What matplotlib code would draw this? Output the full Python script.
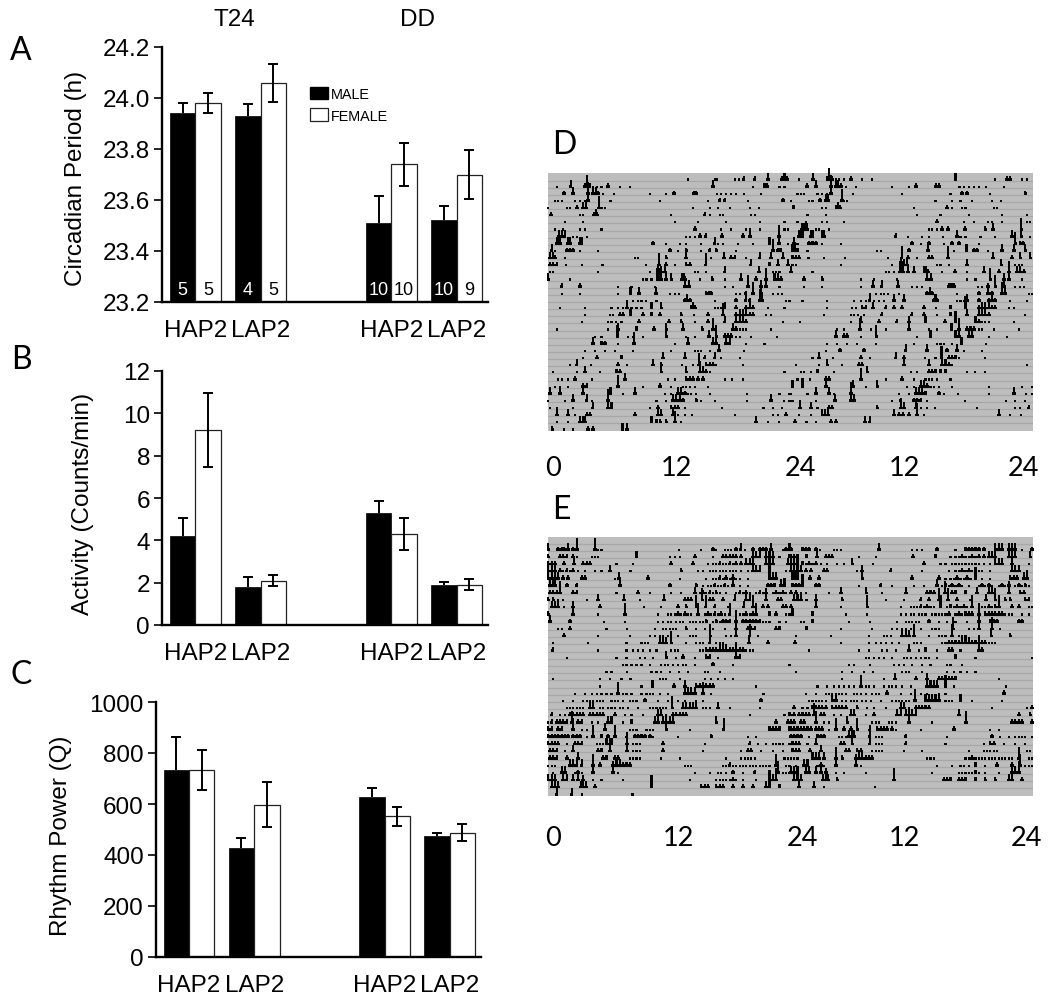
import numpy as np
import matplotlib
matplotlib.use('Agg')
from matplotlib import pyplot as plt
from matplotlib.patches import Patch

plt.rcParams['font.family'] = 'Liberation Sans'

W, H = 1050, 1004

groups = ['HAP2', 'LAP2', 'HAP2', 'LAP2']
group_pos = [0, 1, 3, 4]

period_male = [23.94, 23.93, 23.51, 23.52]
period_female = [23.98, 24.06, 23.74, 23.70]
period_male_err = [0.04, 0.045, 0.105, 0.055]
period_female_err = [0.04, 0.075, 0.085, 0.095]
n_male = [5, 4, 10, 10]
n_female = [5, 5, 10, 9]

activity_male = [4.2, 1.8, 5.3, 1.9]
activity_female = [9.2, 2.1, 4.3, 1.9]
activity_male_err = [0.85, 0.45, 0.55, 0.15]
activity_female_err = [1.75, 0.25, 0.75, 0.25]

power_male = [735, 428, 628, 475]
power_female = [733, 598, 552, 487]
power_male_err = [127, 40, 34, 10]
power_female_err = [77, 87, 38, 33]

# one list per day, (bin, level), 729 bins = 24 h
BINS_PER_DAY = 729
days_d = [
    [(421,1),(501,1),(509,1),(561,1),(573,1),(588,2),(621,2),(661,3),(704,2),(711,3),(719,2)],
    [(26,1),(68,3),(111,2),(116,4),(125,2),(136,1),(146,1),(161,1),(181,2),(216,1),(246,1),(496,3),(616,1),(651,2),(659,2),(696,1),(711,1)],
    [(49,2),(76,3),(121,4),(136,3),(144,3),(151,2),(166,1),(198,1),(306,1),(356,1),(378,2),(438,2),(446,2),(508,1),(521,1),(536,1),(551,1),(566,1),(588,1),(641,1)],
    [(21,1),(31,1),(41,1),(81,1),(96,1),(111,1),(121,4),(188,1),(336,1),(481,1),(516,2),(531,2),(601,1),(706,2)],
    [(1,1),(56,1),(66,1),(88,2),(106,3),(114,3),(154,4),(161,1),(171,1),(436,1),(486,1),(511,1),(546,1),(606,1),(634,1)],
    [(9,2),(96,1),(106,1),(138,2),(143,3),(148,2),(371,1),(471,2),(486,1),(516,1),(526,1),(611,1),(621,1)],
    [(51,1),(106,1),(381,1),(451,1),(536,1),(636,1),(711,1)],
    [(21,1),(46,1),(96,1),(111,1),(161,1),(441,2),(521,1),(551,1),(594,1),(606,1),(636,1),(711,1),(721,1)],
    [(34,3),(42,3),(50,3),(76,1),(86,1),(116,1),(416,1),(426,1),(441,1),(456,2),(474,2),(524,2),(586,2),(608,3),(694,4)],
    [(26,3),(31,3),(36,3),(61,3),(66,3),(96,3),(101,3),(316,2),(354,1),(396,1),(416,1),(459,1),(501,3),(511,1),(526,1),(571,1),(616,1),(666,3),(694,4),(721,1)],
    [(11,3),(21,1),(56,2),(66,2),(76,2),(96,1),(151,1),(366,2),(391,1),(416,2),(461,1),(486,2),(506,2),(566,1),(676,4),(691,2),(699,2)],
    [(6,3),(14,3),(21,2),(51,1),(261,1),(271,1),(356,2),(414,3),(491,1),(529,3),(551,2),(561,2),(594,1),(636,3),(671,3),(706,3)],
    [(6,2),(16,2),(26,2),(54,1),(101,1),(164,1),(294,1),(334,4),(354,2),(381,1),(416,2),(426,2),(474,4),(609,3),(666,2),(691,3),(721,3)],
    [(6,1),(16,1),(151,1),(306,1),(331,3),(341,3),(351,3),(441,1),(451,1),(476,1),(531,3),(634,3),(676,1),(686,1),(696,1)],
    [(1,3),(66,1),(286,1),(296,1),(311,1),(329,4),(334,4),(339,3),(354,3),(371,3),(403,3),(408,3),(413,2),(456,1),(494,2),(531,1),(581,3),(626,2),(656,4),(681,3),(691,3),(701,2)],
    [(41,2),(96,2),(211,1),(251,1),(321,1),(411,3),(423,3),(531,1),(556,1),(601,4),(641,3),(656,3),(696,1)],
    [(41,1),(96,1),(211,1),(248,3),(274,3),(324,3),(366,1),(381,1),(394,1),(476,2),(484,2),(491,2),(564,1),(576,1),(594,2),(616,4),(641,4),(676,1),(691,1),(703,1)],
    [(238,1),(256,1),(271,1),(281,1),(294,1),(326,1),(411,2),(419,3),(426,2),(501,1),(566,2),(594,3),(606,2),(636,4),(644,3),(716,1),(726,1)],
    [(36,1),(111,1),(191,1),(211,1),(226,1),(238,3),(251,1),(266,1),(281,1),(311,3),(341,3),(431,2),(436,3),(441,2),(501,1),(511,1),(521,1),(531,3),(566,2),(596,2),(606,3),(616,2),(661,1),(711,1)],
    [(111,1),(186,1),(196,1),(216,2),(226,2),(248,3),(286,2),(311,2),(336,2),(401,2),(438,1),(481,2),(526,4),(566,2),(576,3),(586,3),(596,3),(606,2),(616,2),(656,1),(671,1)],
    [(101,1),(181,1),(191,1),(204,1),(221,1),(274,2),(364,2),(401,2),(441,1),(481,2),(531,3),(566,3),(576,3),(586,3),(596,2),(706,1)],
    [(28,1),(181,1),(211,3),(266,2),(319,2),(356,3),(406,3),(464,2),(496,4),(556,3),(566,2),(576,1),(586,1),(596,1),(671,1)],
    [(141,1),(161,1),(209,4),(241,1),(256,1),(286,1),(356,4),(416,1),(441,1),(484,3),(506,4),(531,2),(541,2),(551,2),(566,1),(576,1),(611,1),(688,1)],
    [(136,3),(161,2),(171,2),(211,1),(258,4),(381,1),(421,3),(496,3),(506,3),(536,3),(546,3),(596,1),(651,1)],
    [(111,1),(141,1),(171,1),(201,1),(256,1),(371,1),(441,1),(451,1),(461,1),(486,1),(514,3),(588,1)],
    [(106,1),(148,2),(221,2),(346,3),(411,3),(471,2),(501,3),(521,1),(576,1)],
    [(66,1),(86,3),(128,1),(211,2),(238,1),(316,3),(341,2),(404,1),(436,1),(454,4),(476,2),(486,2),(496,2),(506,1),(586,1)],
    [(16,1),(86,1),(111,3),(156,1),(206,2),(216,2),(341,3),(416,3),(456,4),(466,3),(476,2),(486,1),(711,1)],
    [(31,1),(41,1),(61,1),(81,2),(131,1),(231,3),(361,1),(381,1),(416,2),(426,2),(436,2),(451,2),(466,2),(531,1),(554,1),(586,1)],
    [(21,1),(36,1),(59,1),(106,2),(116,2),(211,4),(286,1),(336,2),(371,1),(406,1),(416,1),(426,1),(441,1),(481,1)],
    [(6,3),(36,3),(106,3),(188,3),(226,1),(261,3),(351,1),(371,1),(391,3),(401,3),(411,2),(421,1),(431,1),(446,1),(486,1),(598,1),(696,1),(726,1)],
    [(1,1),(51,1),(76,3),(116,3),(131,1),(181,4),(326,1),(356,1),(376,3),(386,3),(396,3),(406,2),(446,2),(461,1),(503,1),(598,1),(671,3),(709,1),(726,1)],
    [(6,1),(28,1),(76,1),(134,3),(181,4),(191,3),(306,1),(331,2),(371,2),(381,2),(391,2),(411,1),(524,1),(648,1),(676,1),(704,1)],
    [(28,3),(61,3),(81,1),(116,2),(126,2),(261,2),(331,3),(341,3),(376,3),(391,1),(411,1),(434,1),(561,1),(676,1),(691,1),(716,2)],
    [(26,1),(61,1),(96,3),(104,3),(112,3),(311,3),(326,2),(338,2),(356,2),(381,4),(401,1),(626,3),(661,1),(694,1)],
    [(13,2),(48,1),(76,1),(121,2),(136,2),(224,3),(238,3)],
]

days_e = [
    [],
    [(1,3),(31,2),(41,2),(48,2),(61,3),(76,2),(88,4),(141,4),(151,1),(161,1),(394,1),(461,1),(496,2),(506,1),(531,1),(541,1),(551,1),(566,2),(579,3),(591,1),(616,2),(636,2),(646,2),(656,2),(671,3),(706,1),(716,2),(726,3)],
    [(1,2),(36,2),(46,2),(56,2),(76,2),(88,1),(131,1),(141,1),(151,1),(266,3),(366,1),(381,1),(396,1),(441,2),(496,1),(526,2),(536,2),(546,2),(556,2),(566,2),(581,2),(616,3),(626,3),(636,3),(656,3),(666,3),(676,3),(696,1),(726,2)],
    [(1,2),(11,2),(21,2),(48,2),(79,3),(106,2),(116,2),(126,2),(206,1),(256,1),(369,2),(436,2),(481,1),(496,1),(506,1),(516,2),(526,1),(536,1),(546,2),(556,1),(566,2),(581,2),(596,3),(606,3),(616,3),(656,3),(666,3),(676,3),(721,3)],
    [(1,3),(11,3),(21,3),(36,2),(46,1),(56,2),(66,1),(76,2),(91,1),(111,1),(141,1),(161,1),(186,3),(248,1),(401,2),(451,1),(466,1),(486,1),(496,1),(506,1),(516,1),(526,1),(536,1),(546,1),(556,1),(566,1),(581,1),(601,1),(616,3),(626,3),(636,3),(666,3),(716,1)],
    [(1,4),(11,3),(21,3),(31,3),(46,2),(61,2),(101,2),(111,2),(201,1),(214,3),(301,2),(396,1),(476,1),(496,1),(506,1),(516,2),(526,1),(536,2),(546,1),(556,2),(566,1),(576,1),(601,1),(666,3),(676,3),(686,3),(711,1)],
    [(6,3),(14,3),(21,3),(58,2),(86,2),(216,3),(366,2),(446,2),(466,1),(481,1),(491,1),(501,2),(511,1),(521,1),(531,2),(541,1),(556,4),(576,1),(601,1),(661,2),(671,2),(681,2),(701,3),(711,3)],
    [(6,2),(16,2),(26,2),(36,4),(76,2),(86,2),(206,1),(271,2),(306,1),(371,1),(401,1),(441,3),(456,1),(466,2),(476,1),(486,2),(496,1),(506,2),(516,1),(536,1),(566,1),(576,2),(586,1),(596,2),(606,1),(626,1),(636,2),(646,1),(656,2),(676,1),(686,2),(696,1),(706,2),(716,1)],
    [(1,2),(16,2),(31,1),(46,1),(116,1),(151,3),(228,3),(276,1),(348,3),(411,2),(421,2),(431,2),(464,4),(486,2),(496,2),(526,2),(561,3),(596,3),(606,3),(656,4),(691,2),(701,2)],
    [(11,3),(21,3),(31,3),(48,1),(76,3),(156,2),(231,1),(288,1),(341,1),(391,2),(416,2),(446,4),(474,4),(501,2),(541,1),(588,3),(616,4),(646,2),(661,2),(706,2),(716,2)],
    [(1,2),(76,4),(151,1),(231,4),(331,1),(361,1),(371,1),(381,1),(391,2),(401,1),(411,2),(421,1),(431,1),(451,4),(471,1),(481,2),(491,1),(501,2),(511,1),(521,2),(531,1),(546,4),(566,1),(576,1),(586,1),(596,2),(606,1),(616,2),(626,4),(666,2),(686,2),(716,1),(726,1)],
    [(6,3),(66,2),(168,1),(231,1),(331,1),(346,1),(361,1),(371,1),(386,1),(396,1),(406,1),(426,1),(436,1),(446,1),(456,1),(466,1),(476,2),(496,1),(506,2),(516,1),(526,2),(536,2),(546,2),(566,4),(586,2),(596,2),(606,2),(616,2),(626,2),(636,2),(646,1),(656,1),(666,1),(696,1),(716,1)],
    [(31,1),(41,1),(66,2),(176,1),(238,1),(321,1),(346,1),(356,1),(366,1),(376,1),(386,1),(416,2),(446,1),(471,1),(496,1),(531,1),(566,4),(601,2),(611,2),(621,2),(686,2),(696,2)],
    [(48,2),(151,1),(246,1),(306,1),(321,1),(336,1),(346,1),(361,1),(371,1),(391,1),(426,1),(436,1),(446,1),(488,4),(536,1),(551,1),(566,4),(606,4),(631,1)],
    [(16,1),(121,1),(236,1),(281,1),(291,1),(301,1),(336,3),(346,3),(356,3),(371,4),(416,1),(446,1),(456,1),(466,1),(486,4),(506,1),(516,1),(526,1),(566,1),(604,3),(661,2)],
    [(14,2),(151,1),(236,1),(256,1),(271,1),(286,1),(306,1),(326,1),(371,1),(381,1),(391,1),(456,1),(466,1),(476,2),(486,2),(496,2),(506,2),(516,3),(526,3),(536,3),(546,2),(556,2),(566,3),(576,2),(586,2),(596,1),(606,1),(616,1)],
    [(56,1),(206,1),(236,1),(276,1),(291,1),(316,1),(356,3),(386,1),(406,2),(441,1),(476,2),(486,2),(511,1),(566,3),(576,2)],
    [(226,1),(236,1),(251,1),(266,1),(281,1),(306,1),(341,1),(351,1),(361,1),(376,1),(391,1),(406,1),(416,1),(441,1),(496,2),(556,1),(726,1)],
    [(176,1),(191,1),(238,1),(311,1),(326,1),(341,1),(366,1),(394,1),(421,1),(471,1),(481,1),(516,1)],
    [(16,1),(156,1),(186,1),(221,1),(248,1),(336,1),(346,1),(356,1),(396,1),(471,1),(491,1),(511,1),(531,1),(556,1)],
    [(156,1),(281,1),(314,3),(378,2),(411,3),(446,2),(456,2),(466,2),(476,2),(486,2),(496,2),(626,1)],
    [(81,1),(111,1),(131,1),(146,1),(161,1),(176,1),(191,1),(211,4),(226,1),(236,1),(251,1),(281,1),(296,1),(306,1),(316,1),(336,1),(361,1),(411,3),(421,3),(431,3),(441,3),(466,4),(491,1),(648,1)],
    [(46,1),(76,1),(106,1),(116,1),(126,1),(136,1),(146,1),(156,1),(166,1),(191,1),(201,1),(211,1),(226,1),(246,1),(256,1),(266,1),(291,2),(331,1),(361,1),(391,1),(411,1),(446,1),(466,1),(641,2)],
    [(56,1),(66,1),(76,1),(86,1),(96,1),(106,1),(126,3),(136,3),(156,1),(166,1),(181,1),(191,1),(201,1),(216,1),(226,1),(241,1),(271,1),(306,1),(316,1),(326,1),(336,1),(346,1),(356,1),(374,4),(406,3),(416,3),(426,3),(436,3),(446,3),(466,1),(476,1),(486,1),(511,3),(546,1),(636,1)],
    [(11,2),(36,1),(51,1),(66,2),(76,2),(86,2),(96,2),(106,2),(126,2),(136,2),(146,2),(156,2),(166,2),(201,2),(231,1),(251,1),(286,1),(331,3),(341,3),(356,1),(376,2),(386,2),(396,2),(406,2),(416,2),(606,1),(711,1),(726,2)],
    [(1,1),(11,2),(26,2),(36,2),(46,2),(56,2),(71,4),(91,2),(101,2),(131,1),(151,1),(181,3),(191,3),(226,1),(251,2),(321,3),(331,3),(346,3),(356,3),(366,3),(376,3),(506,3),(686,2),(721,2)],
    [(1,2),(11,2),(31,2),(41,2),(76,4),(101,1),(116,1),(136,1),(171,3),(246,1),(256,1),(266,1),(296,1),(306,1),(316,1),(356,3),(426,1),(528,4),(666,2),(676,2),(686,2),(696,2),(726,2)],
    [(1,2),(11,2),(21,2),(31,2),(41,2),(51,2),(61,2),(76,2),(86,2),(96,2),(116,1),(136,4),(161,2),(181,2),(201,4),(236,1),(261,2),(271,2),(281,2),(291,2),(306,2),(316,1),(391,1),(491,2),(601,1),(626,1)],
    [(1,2),(11,2),(21,2),(31,2),(56,1),(81,2),(91,2),(101,2),(146,1),(156,1),(166,1),(176,3),(186,3),(191,3),(238,4),(256,1),(266,1),(276,1),(346,2),(471,1),(606,2),(631,1),(656,1),(676,1),(686,1),(696,1),(706,1),(726,1)],
    [(6,2),(16,2),(26,2),(51,1),(76,3),(151,2),(161,2),(186,4),(238,3),(256,1),(266,1),(276,1),(346,2),(466,1),(581,1),(601,2),(611,2),(641,1),(676,1),(706,1)],
    [(6,2),(16,2),(26,2),(58,2),(91,3),(166,2),(176,2),(201,2),(211,2),(246,1),(256,1),(266,1),(276,1),(341,1),(396,1),(536,1),(581,1),(591,1),(601,1),(611,1),(621,1),(686,1),(711,1),(721,1)],
    [(1,1),(11,1),(21,1),(66,3),(76,3),(86,3),(101,3),(136,4),(156,2),(196,2),(206,3),(216,3),(226,2),(236,2),(246,2),(411,1),(421,1),(431,1),(526,1),(536,1),(546,2),(556,1),(566,1),(576,1),(586,1),(596,1),(606,1),(616,1),(626,1),(636,1),(646,1),(656,1),(666,1),(686,4),(716,1),(726,1)],
    [(16,1),(41,3),(51,3),(81,1),(91,2),(101,1),(136,4),(196,4),(211,1),(441,1),(486,1),(511,1),(521,1),(536,1),(556,2),(586,1),(621,2),(666,2),(691,4),(706,1),(716,1),(726,1)],
    [(1,3),(11,3),(21,3),(46,3),(56,3),(76,3),(91,3),(106,2),(136,1),(161,1),(226,1),(426,1),(506,1),(516,1),(526,1),(536,1),(546,1),(556,2),(566,1),(586,1),(626,1),(666,3),(676,3),(686,4)],
    [(11,3),(21,3),(31,3),(98,3),(106,4),(114,3),(141,2),(311,4),(461,2),(471,2),(481,2),(506,2),(516,2),(526,2),(556,2),(586,2),(616,2),(656,3),(666,3),(696,2)],
    [(26,3),(71,3),(101,1),(254,1)],
]

level_heights = [0, 0.3, 0.6, 1.05, 1.8]

acto_ticks_d = [0.5, 12.7, 25, 35.3, 47.1]
acto_ticks_e = [0.5, 12.9, 25.2, 35.3, 47.4]
acto_labels = ['0', '12', '24', '12', '24']

fig = plt.figure(figsize=(W / 100, H / 100), dpi=100)


def px_axes(left, top, right, bottom):
    return fig.add_axes([left / W, 1 - bottom / H, (right - left) / W, (bottom - top) / H])


def bar_panel(box, ylim, yticks, yfmt, male, female, male_err, female_err, ylabel, label_x, label_y):
    ax = px_axes(*box)
    pos = np.array(group_pos)
    width = 0.39
    ekw = dict(fmt='none', ecolor='black', elinewidth=1.4, capsize=3.6, capthick=1.4)
    ax.bar(pos - width / 2, male, width, color='black', edgecolor='black', linewidth=0.5)
    ax.bar(pos + width / 2, female, width, color='white', edgecolor='#222222', linewidth=0.9)
    # male bars only carry the upper whisker
    _, caps, _ = ax.errorbar(pos - width / 2, male, yerr=[np.zeros(4), male_err], **ekw)
    caps[0].set_visible(False)
    ax.errorbar(pos + width / 2, female, yerr=female_err, **ekw)
    ax.set_xlim(-0.51, 4.48)
    ax.set_ylim(*ylim)
    ax.set_yticks(yticks)
    ax.set_yticklabels([yfmt % t for t in yticks], fontsize=17.5)
    ax.set_xticks(pos)
    ax.set_xticklabels(groups, fontsize=17.5)
    ax.tick_params(axis='x', length=0, pad=12)
    ax.tick_params(axis='y', length=5.6, width=1.2, pad=3)
    for side in ['top', 'right']:
        ax.spines[side].set_visible(False)
    for side in ['left', 'bottom']:
        ax.spines[side].set_linewidth(1.7)
    ax.set_ylabel(ylabel, fontsize=17.5, va='center')
    ax.yaxis.set_label_coords((label_x - box[0]) / (box[2] - box[0]), label_y)
    return ax


ax_a = bar_panel((162, 48, 488, 303), (23.2, 24.2), [23.2, 23.4, 23.6, 23.8, 24.0, 24.2], '%.1f',
                 period_male, period_female, period_male_err, period_female_err,
                 'Circadian Period (h)', 76, 0.49)
ax_b = bar_panel((162, 372, 488, 626), (0, 12), [0, 2, 4, 6, 8, 10, 12], '%d',
                 activity_male, activity_female, activity_male_err, activity_female_err,
                 'Activity (Counts/min)', 83, 0.48)
ax_c = bar_panel((155.7, 703, 481, 958), (0, 1000), [0, 200, 400, 600, 800, 1000], '%d',
                 power_male, power_female, power_male_err, power_female_err,
                 'Rhythm Power (Q)', 61, 0.48)

# n per group, inside the bars of panel A
for p, nm, nf in zip(group_pos, n_male, n_female):
    ax_a.text(p - 0.195, 23.25, str(nm), color='white', fontsize=13, ha='center', va='center')
    ax_a.text(p + 0.195, 23.25, str(nf), color='black', fontsize=13, ha='center', va='center')

fig.text(234 / W, 1 - 19.5 / H, 'T24', fontsize=17.5, ha='center', va='center')
fig.text(417 / W, 1 - 19.5 / H, 'DD', fontsize=17.5, ha='center', va='center')

handles = [Patch(facecolor='black', edgecolor='black', label='MALE'),
           Patch(facecolor='white', edgecolor='#222222', linewidth=0.9, label='FEMALE')]
fig.legend(handles=handles, loc='upper left', bbox_to_anchor=(310 / W, 1 - 87.5 / H), frameon=False,
           fontsize=10.4, handlelength=1.25, handleheight=1.0, handletextpad=0.2,
           labelspacing=0.5, borderpad=0, borderaxespad=0)


def actogram(box, days, ticks, first_row, label_pad):
    ax = px_axes(*box)
    ax.set_facecolor('#bdbdbd')
    rows = len(days)
    x, base, h = [], [], []
    for row, day in enumerate(days):
        for b, lev in day:
            hour = b * 24 / BINS_PER_DAY
            x.append(hour)
            base.append(row + 1)
            h.append(level_heights[lev])
            # double plot, the same day sits again on the row above, shifted 24 h
            if row - 1 >= first_row:
                x.append(hour + 24)
                base.append(row)
                h.append(level_heights[lev])
    x, base, h = np.array(x), np.array(base), np.array(h)
    for row in range(1, rows):
        ax.axhline(row, color='#a8a8a8', linewidth=0.9, zorder=1)
    # taller peaks get a wider foot, small ones stay single dots
    big = h > 0.5
    ax.bar(x[big], -np.minimum(h[big], 0.35), 0.36, bottom=base[big], color='black',
           linewidth=0, zorder=3, clip_on=False)
    ax.bar(x, -h, 0.21, bottom=base, color='black', linewidth=0, zorder=3, clip_on=False)
    ax.set_xlim(0, 48)
    ax.set_ylim(rows, 0)
    ax.set_yticks([])
    ax.set_xticks(ticks)
    ax.set_xticklabels(acto_labels, fontsize=19.5, family='Lato')
    ax.tick_params(axis='x', length=0, pad=label_pad)
    for s in ax.spines.values():
        s.set_visible(False)
    return ax


actogram((548, 174.4, 1033, 431.5), days_d, acto_ticks_d, 0, 18)
actogram((548, 537.5, 1033, 796.5), days_e, acto_ticks_e, 1, 21)

for letter, lx, ly in [('A', 10, 51), ('B', 11, 360), ('C', 11, 675), ('D', 552, 145), ('E', 552, 510)]:
    fig.text(lx / W, 1 - ly / H, letter, fontsize=23, family='Lato', ha='left', va='center')

fig.savefig('out.png', dpi=100)
